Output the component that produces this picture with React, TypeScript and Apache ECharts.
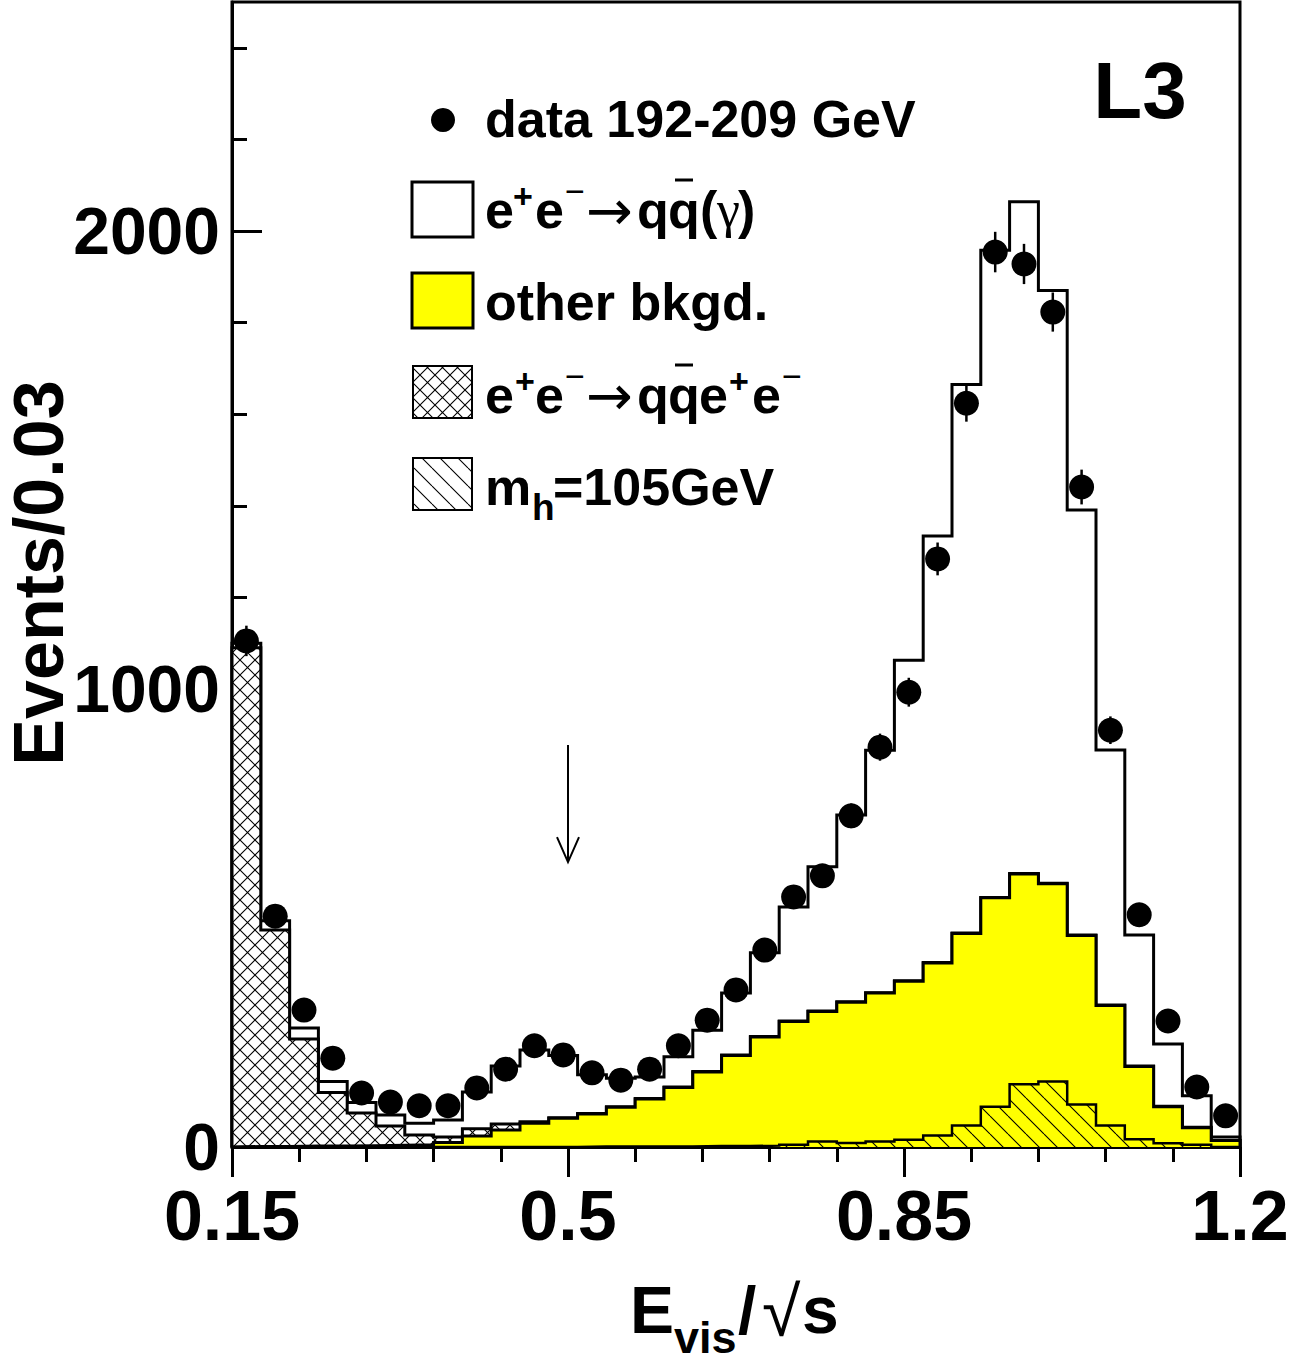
import React, { useEffect, useRef } from 'react';
import * as echarts from 'echarts';

// ---- data ----
const binEdges = [0.15, 0.18, 0.21, 0.24, 0.27, 0.3, 0.33, 0.36, 0.39, 0.42, 0.45, 0.48, 0.51, 0.54, 0.57, 0.6, 0.63, 0.66, 0.69, 0.72, 0.75, 0.78, 0.81, 0.84, 0.87, 0.9, 0.93, 0.96, 0.99, 1.02, 1.05, 1.08, 1.11, 1.14, 1.17, 1.2];
const dataCounts = [1105, 504, 299, 194, 118, 98, 90, 90, 129, 170, 221, 201, 162, 146, 170, 221, 277, 343, 430, 546, 592, 723, 873, 993, 1284, 1624, 1954, 1928, 1823, 1441, 910, 507, 275, 131, 68];
const otherBkgd = [1, 1, 2, 2, 3, 4, 5, 10, 24, 37, 52, 63, 72, 87, 105, 130, 164, 200, 240, 274, 296, 316, 336, 362, 402, 466, 544, 596, 575, 462, 309, 176, 88, 42, 14];
const qqeeBkgd = [1089, 473, 234, 117, 71, 42, 21, 12, 16, 13, 3, 1, 1, 1, 1, 1, 1, 1, 1, 1, 1, 1, 1, 1, 1, 1, 1, 1, 1, 1, 1, 1, 1, 1, 0];
const qqGamma = [10, 20, 24, 24, 23, 24, 26, 37, 80, 127, 157, 136, 85, 62, 47, 66, 90, 135, 183, 249, 315, 408, 529, 700, 931, 1198, 1413, 1467, 1294, 928, 557, 286, 136, 69, 8];
const higgs105 = [0, 0, 0, 0, 0, 0, 0, 0, 0, 0, 0, 0, 1, 1, 1, 1, 2, 2, 3, 5, 12, 9, 12, 16, 25, 47, 88, 137, 143, 93, 47, 17, 8, 5, 0];

const xMajorTicks = [0.15, 0.5, 0.85, 1.2];
const xTickLabels = ['0.15', '0.5', '0.85', '1.2'];
const xMinorTicks = [0.22, 0.29, 0.36, 0.43, 0.57, 0.64, 0.71, 0.78, 0.92, 0.99, 1.06, 1.13];
const yMajorTicks = [0, 1000, 2000];
const yMinorTicks = [0, 200, 400, 600, 800, 1000, 1200, 1400, 1600, 1800, 2000, 2200, 2400];
const arrowAt = [0.5, 878, 622]; // x, top, tip

const FONT = 'Liberation Sans';

function stepPoints(vals: number[]) {
  const pts: number[][] = [[binEdges[0], 0]];
  vals.forEach((v, i) => pts.push([binEdges[i], v]));
  pts.push([binEdges[vals.length], 0]);
  return pts;
}

function makeHatch(size: number, dirs: string[], bg: string | null) {
  const c = document.createElement('canvas');
  c.width = size;
  c.height = size;
  const ctx = c.getContext('2d')!;
  if (bg) {
    ctx.fillStyle = bg;
    ctx.fillRect(0, 0, size, size);
  }
  ctx.strokeStyle = '#000';
  ctx.lineWidth = 1.1;
  ctx.beginPath();
  for (const d of dirs) {
    for (let k = -1; k <= 1; k++) {
      if (d === 'down') {
        ctx.moveTo(k * size, 0);
        ctx.lineTo(k * size + size, size);
      } else {
        ctx.moveTo(k * size + size, 0);
        ctx.lineTo(k * size, size);
      }
    }
  }
  ctx.stroke();
  return { image: c, repeat: 'repeat', imageWidth: size, imageHeight: size } as any;
}

function T(text: string, x: number, baseline: number, fs: number, opt: any = {}) {
  return {
    type: 'text',
    x,
    y: baseline - 0.347 * fs,
    style: {
      text,
      fontSize: fs,
      fontWeight: opt.w || 'bold',
      fontFamily: opt.f || FONT,
      fill: '#000',
      align: opt.a || 'left',
      verticalAlign: 'middle',
    },
    z: 100,
  };
}

function barLine(x1: number, x2: number, y: number) {
  return { type: 'line', shape: { x1, y1: y, x2, y2: y }, style: { stroke: '#000', lineWidth: 3 }, z: 100 };
}

export default function App() {
  const ref = useRef<HTMLDivElement>(null);
  useEffect(() => {
    const chart = echarts.init(ref.current!, null, { renderer: 'svg' });
    const cross = makeHatch(15, ['down', 'up'], '#ffffff');
    const hatch = makeHatch(18, ['down'], null);

    const centers = dataCounts.map((_, i) => (binEdges[i] + binEdges[i + 1]) / 2);
    const top2 = otherBkgd.map((v, i) => v + qqeeBkgd[i]);
    const total = top2.map((v, i) => v + qqGamma[i]);

    const lineCommon = {
      type: 'line',
      step: 'end',
      showSymbol: false,
      symbol: 'none',
      silent: true,
      lineStyle: { color: '#000', width: 3, join: 'miter', cap: 'butt' },
    };

    const legendRow2 = 228;
    const legendRow4 = 413;

    const option: any = {
      animation: false,
      backgroundColor: '#ffffff',
      textStyle: { fontFamily: FONT },
      grid: {
        left: 232,
        right: 67,
        top: 2,
        bottom: 215,
        show: true,
        borderColor: '#000',
        borderWidth: 3,
        backgroundColor: 'transparent',
        containLabel: false,
        outerBoundsMode: 'none',
      },
      xAxis: [
        {
          type: 'value',
          min: 0.15,
          max: 1.2,
          position: 'bottom',
          axisLine: { show: true, lineStyle: { color: '#000', width: 3 } },
          axisTick: { show: true, customValues: xMajorTicks, length: 30, inside: false, lineStyle: { color: '#000', width: 3 } },
          axisLabel: {
            show: true,
            customValues: xMajorTicks,
            margin: 34,
            fontSize: 70,
            fontWeight: 'bold',
            fontFamily: FONT,
            color: '#000',
            formatter: (v: number) => {
              let best = 0;
              xMajorTicks.forEach((t, i) => {
                if (Math.abs(t - v) < Math.abs(xMajorTicks[best] - v)) best = i;
              });
              return xTickLabels[best];
            },
          },
          splitLine: { show: false },
        },
        {
          type: 'value',
          min: 0.15,
          max: 1.2,
          position: 'bottom',
          axisLine: { show: false },
          axisTick: { show: true, customValues: xMinorTicks, length: 15, inside: false, lineStyle: { color: '#000', width: 3 } },
          axisLabel: { show: false },
          splitLine: { show: false },
        },
      ],
      yAxis: [
        {
          type: 'value',
          min: 0,
          max: 2500,
          position: 'left',
          axisLine: { show: true, lineStyle: { color: '#000', width: 3 } },
          axisTick: { show: true, customValues: yMajorTicks, length: 30, inside: true, lineStyle: { color: '#000', width: 3 } },
          axisLabel: {
            show: true,
            customValues: yMajorTicks,
            margin: 12,
            fontSize: 66,
            fontWeight: 'bold',
            fontFamily: FONT,
            color: '#000',
            formatter: (v: number) => String(Math.round(v)),
          },
          splitLine: { show: false },
        },
        {
          type: 'value',
          min: 0,
          max: 2500,
          position: 'left',
          axisLine: { show: false },
          axisTick: { show: true, customValues: yMinorTicks, length: 15, inside: true, lineStyle: { color: '#000', width: 3 } },
          axisLabel: { show: false },
          splitLine: { show: false },
        },
      ],
      series: [
        { ...lineCommon, name: 'qq', data: stepPoints(total), z: 2 },
        { ...lineCommon, name: 'qqee', data: stepPoints(top2), areaStyle: { color: cross, opacity: 1 }, z: 3 },
        { ...lineCommon, name: 'other', data: stepPoints(otherBkgd), areaStyle: { color: '#ffff00', opacity: 1 }, z: 4 },
        { ...lineCommon, name: 'higgs', data: stepPoints(higgs105), areaStyle: { color: hatch, opacity: 1 }, lineStyle: { color: '#000', width: 2.5, join: 'miter' }, z: 5 },
        {
          type: 'custom',
          name: 'errors',
          z: 6,
          silent: true,
          data: dataCounts.map((v, i) => [centers[i], v - Math.sqrt(v), v + Math.sqrt(v)]),
          renderItem: (params: any, api: any) => {
            const lo = api.coord([api.value(0), api.value(1)]);
            const hi = api.coord([api.value(0), api.value(2)]);
            return { type: 'line', shape: { x1: lo[0], y1: lo[1], x2: hi[0], y2: hi[1] }, style: { stroke: '#000', lineWidth: 2.5 } };
          },
        },
        {
          type: 'scatter',
          name: 'data',
          z: 7,
          silent: true,
          symbol: 'circle',
          symbolSize: 25,
          itemStyle: { color: '#000', opacity: 1 },
          data: dataCounts.map((v, i) => [centers[i], v]),
        },
        {
          type: 'custom',
          name: 'arrow',
          z: 8,
          silent: true,
          data: [arrowAt],
          renderItem: (params: any, api: any) => {
            const top = api.coord([api.value(0), api.value(1)]);
            const tip = api.coord([api.value(0), api.value(2)]);
            return {
              type: 'group',
              children: [
                { type: 'line', shape: { x1: top[0], y1: top[1], x2: tip[0], y2: tip[1] }, style: { stroke: '#000', lineWidth: 2 } },
                {
                  type: 'polyline',
                  shape: { points: [[tip[0] - 11, tip[1] - 25], [tip[0], tip[1]], [tip[0] + 11, tip[1] - 25]] },
                  style: { stroke: '#000', lineWidth: 2, fill: 'none' },
                },
              ],
            };
          },
        },
      ],
      graphic: [
        // L3 label
        T('L3', 1140, 118, 80, { a: 'center' }),
        // row 1
        { type: 'circle', shape: { cx: 443, cy: 120, r: 12 }, style: { fill: '#000' }, z: 100 },
        T('data 192-209 GeV', 485, 137, 52),
        // row 2
        { type: 'rect', shape: { x: 412, y: 182, width: 61, height: 55 }, style: { fill: '#fff', stroke: '#000', lineWidth: 3 }, z: 100 },
        T('e', 485, legendRow2, 52),
        T('+', 513, legendRow2 - 20, 34),
        T('e', 535, legendRow2, 52),
        T('\u2212', 565, legendRow2 - 25, 34, { w: 'normal' }),
        T('\u2192', 586, legendRow2 + 2, 56, { w: 'normal', f: 'DejaVu Sans' }),
        T('q', 637, legendRow2, 52),
        T('q', 668, legendRow2, 52),
        barLine(675, 693, legendRow2 - 48),
        T('(', 700, legendRow2, 52),
        T('\u03b3', 717, legendRow2, 52, { w: 'normal', f: 'Liberation Serif' }),
        T(')', 738, legendRow2, 52),
        // row 3
        { type: 'rect', shape: { x: 412, y: 273, width: 61, height: 55 }, style: { fill: '#ffff00', stroke: '#000', lineWidth: 3 }, z: 100 },
        T('other bkgd.', 485, 320, 52),
        // row 4
        { type: 'rect', shape: { x: 413, y: 366, width: 59, height: 52 }, style: { fill: cross, stroke: '#000', lineWidth: 2 }, z: 100 },
        T('e', 485, legendRow4, 52),
        T('+', 515, legendRow4 - 20, 34),
        T('e', 535, legendRow4, 52),
        T('\u2212', 565, legendRow4 - 25, 34, { w: 'normal' }),
        T('\u2192', 586, legendRow4 + 2, 56, { w: 'normal', f: 'DejaVu Sans' }),
        T('q', 637, legendRow4, 52),
        T('q', 668, legendRow4, 52),
        barLine(675, 693, legendRow4 - 48),
        T('e', 699, legendRow4, 52),
        T('+', 729, legendRow4 - 20, 34),
        T('e', 752, legendRow4, 52),
        T('\u2212', 782, legendRow4 - 25, 34, { w: 'normal' }),
        // row 5
        { type: 'rect', shape: { x: 413, y: 458, width: 59, height: 52 }, style: { fill: hatch, stroke: '#000', lineWidth: 2 }, z: 100 },
        T('m', 485, 505, 52),
        T('h', 532, 520, 37),
        T('=105GeV', 553, 505, 52),
        // x axis title
        T('E', 630, 1333, 66),
        T('vis', 674, 1353, 45),
        T('/', 738, 1333, 66),
        T('\u221a', 762, 1336, 70, { w: 'normal' }),
        T('s', 802, 1333, 66),
        // y axis title
        {
          type: 'text',
          x: 39,
          y: 573,
          rotation: Math.PI / 2,
          style: { text: 'Events/0.03', fontSize: 70, fontWeight: 'bold', fontFamily: FONT, fill: '#000', align: 'center', verticalAlign: 'middle' },
          z: 100,
        },
      ],
    };
    chart.setOption(option);
    return () => chart.dispose();
  }, []);
  return <div ref={ref} style={{ position: 'fixed', left: 0, top: 0, width: 1307, height: 1362, background: '#fff' }} />;
}
